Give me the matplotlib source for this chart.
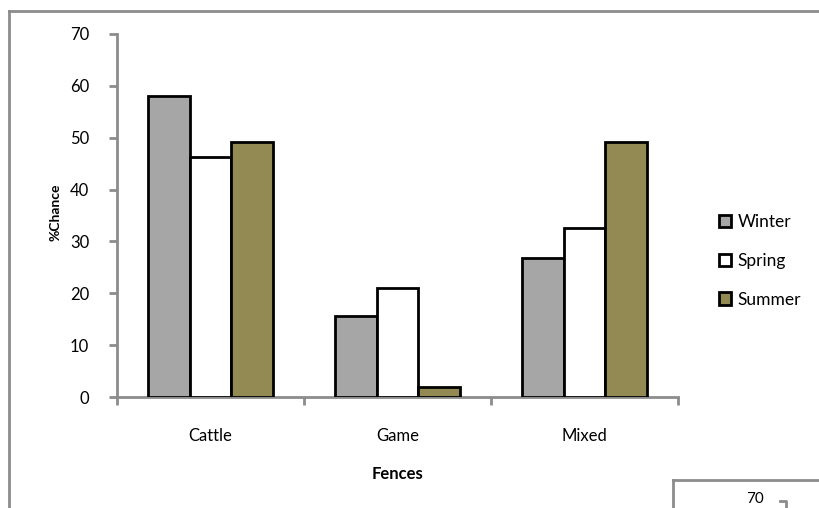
import matplotlib

matplotlib.use("Agg")
import matplotlib.pyplot as plt
import numpy as np
from matplotlib.lines import Line2D
from matplotlib.patches import Patch

plt.rcParams["font.family"] = ["Lato", "DejaVu Sans"]

# Percentage chance per fence type and season
categories = ["Cattle", "Game", "Mixed"]
seasons = ["Winter", "Spring", "Summer"]
winter = [58.0, 15.6, 26.8]
spring = [46.2, 21.0, 32.6]
summer = [49.1, 1.9, 49.1]
season_colors = ["#a6a6a6", "#ffffff", "#938953"]
y_ticks = [0, 10, 20, 30, 40, 50, 60, 70]

W, H = 819, 508
fig = plt.figure(figsize=(W / 100, H / 100), dpi=100)
ax = fig.add_axes([117 / W, 1 - 397 / H, (678 - 117) / W, (397 - 34) / H])

x = np.arange(len(categories))
bar_width = 2 / 3 / 3
for i, (values, color) in enumerate(zip([winter, spring, summer], season_colors)):
    ax.bar(x + (i - 1) * bar_width, values, width=bar_width, color=color,
           edgecolor="black", linewidth=2, zorder=3)

ax.set_xlim(-0.5, len(categories) - 0.5)
ax.set_ylim(0, 70)
ax.set_yticks(y_ticks)
ax.set_yticklabels([str(v) for v in y_ticks], fontsize=12)

# Category labels sit between the boundary ticks
ax.set_xticks(np.arange(len(categories) + 1) - 0.5)
ax.set_xticklabels([])
ax.set_xticks(x, minor=True)
ax.set_xticklabels(categories, minor=True, fontsize=12)
ax.tick_params(axis="x", which="minor", length=0, pad=22)
ax.tick_params(axis="x", which="major", length=6, width=2, color="#8c8c8c")
ax.tick_params(axis="y", length=6, width=2, color="#8c8c8c", pad=14)

for side in ["top", "right"]:
    ax.spines[side].set_visible(False)
for side in ["left", "bottom"]:
    ax.spines[side].set_color("#8c8c8c")
    ax.spines[side].set_linewidth(2)

ax.set_xlabel("Fences", fontsize=12, fontweight="bold", labelpad=16)
fig.text(55 / W, 1 - 212 / H, "%Chance", rotation=90, fontsize=10,
         fontweight="bold", ha="center", va="center")

handles = [Patch(facecolor=c, edgecolor="black", linewidth=2) for c in season_colors]
fig.legend(handles, seasons, loc="center left", bbox_to_anchor=(703 / W, 1 - 261 / H),
           frameon=False, fontsize=12.5, handlelength=0.7, handleheight=0.7,
           handletextpad=0.4, labelspacing=1.3)

# Chart frame and the edge of the neighbouring chart
frame_color = "#8c8c8c"
fig.add_artist(Line2D([9 / W, 9 / W], [0, 1 - 11 / H], color=frame_color, lw=2))
fig.add_artist(Line2D([9 / W, 1], [1 - 11 / H, 1 - 11 / H], color=frame_color, lw=2))
fig.add_artist(Line2D([673 / W, 673 / W], [0, 1 - 480 / H], color=frame_color, lw=2))
fig.add_artist(Line2D([673 / W, 1], [1 - 480 / H, 1 - 480 / H], color=frame_color, lw=2))
fig.text(755 / W, 1 - 499 / H, "70", fontsize=11, ha="center", va="center")
fig.add_artist(Line2D([780 / W, 786 / W, 786 / W], [1 - 501 / H, 1 - 501 / H, 0],
                      color=frame_color, lw=2))

fig.savefig("out.png", dpi=100)
